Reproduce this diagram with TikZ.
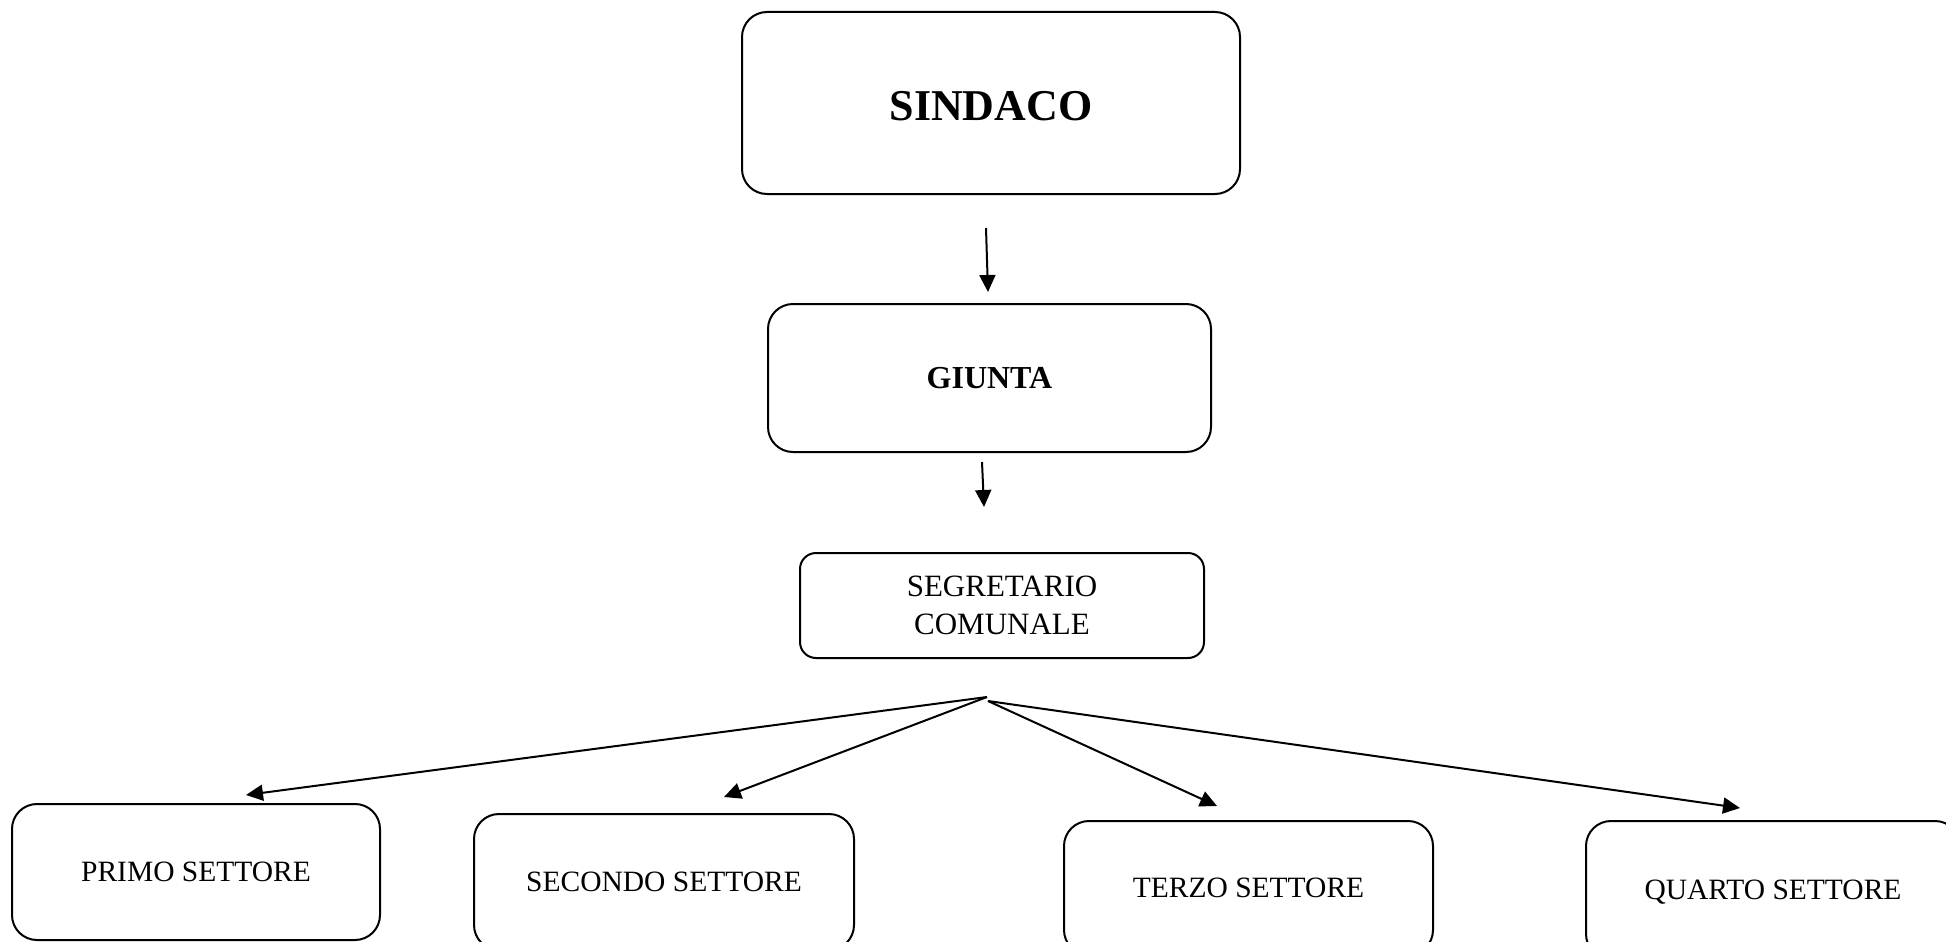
\documentclass[tikz,border=0pt]{standalone}
\usepackage{fontspec}
\setmainfont{Liberation Serif}
\usetikzlibrary{arrows.meta}
\begin{document}
\begin{tikzpicture}[x=1pt,y=-1pt,
  box/.style={draw, line width=2pt, rounded corners=#1, inner sep=0pt, align=center},
  box/.default=25pt,
  oneline/.style={text height=#1, text depth=0pt},
  big/.style={font=\fontsize{44}{53}\selectfont\bfseries},
  mid/.style={font=\fontsize{32}{38}\selectfont\bfseries},
  seg/.style={font=\fontsize{31}{38}\selectfont},
  sect/.style={font=\fontsize{29.5}{36}\selectfont},
  arr/.style={line width=2pt, -{Triangle[length=17pt,width=16pt]}}]
\useasboundingbox (0,0) rectangle (1946,942);
\clip (0,0) rectangle (1946,942);

\node[box, big, oneline=35pt, minimum width=498pt, minimum height=182pt] (sindaco) at (991,103) {SINDACO};
\node[box, mid, oneline=21pt, minimum width=443pt, minimum height=148pt] (giunta) at (989.5,378) {GIUNTA};
\node[box=16pt, seg, minimum width=404pt, minimum height=105pt] (segr) at (1002,605.5) {SEGRETARIO\\COMUNALE};

\node[box, sect, oneline=19.5pt, minimum width=368pt, minimum height=136pt] (primo) at (196,872) {PRIMO SETTORE};
\node[box, sect, oneline=19.5pt, minimum width=380pt, minimum height=136pt] (secondo) at (664,882) {SECONDO SETTORE};
\node[box, sect, oneline=19.5pt, minimum width=369pt, minimum height=134pt] (terzo) at (1248.5,888) {TERZO SETTORE};
\node[box, sect, oneline=19.5pt, minimum width=374pt, minimum height=138pt] (quarto) at (1773,890) {QUARTO SETTORE};

\coordinate (a1s) at (986,228);
\coordinate (a1e) at (988,292);
\coordinate (a2s) at (982,462);
\coordinate (a2e) at (984,507);
\coordinate (brL) at (987,697);
\coordinate (brR) at (988,701);
\coordinate (tPrimo) at (246,795);
\coordinate (tSecondo) at (724,797);
\coordinate (tTerzo) at (1217,806);
\coordinate (tQuarto) at (1740,808);

\draw[arr] (a1s) -- (a1e);
\draw[arr] (a2s) -- (a2e);
\draw[arr] (brL) -- (tPrimo);
\draw[arr] (brL) -- (tSecondo);
\draw[arr] (brR) -- (tTerzo);
\draw[arr] (brR) -- (tQuarto);
\end{tikzpicture}
\end{document}
